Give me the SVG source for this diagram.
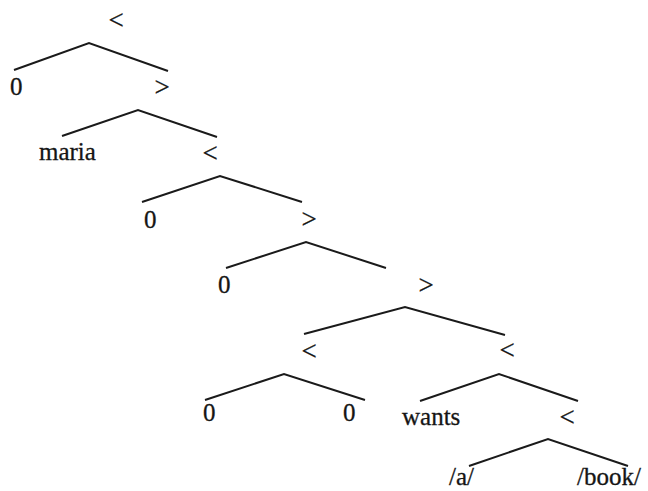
<svg xmlns="http://www.w3.org/2000/svg" width="648" height="491" viewBox="0 0 648 491">
<style>
text{font-family:"Liberation Serif","Times New Roman",serif;font-size:25px;fill:#151515;stroke:#151515;stroke-width:0.3}
.c{text-anchor:middle;font-size:27px}
.br{fill:none;stroke:#1a1a1a;stroke-width:2;stroke-linejoin:miter}
</style>
<rect width="648" height="491" fill="#fff"/>
<g id="connectors">
<polyline class="br" points="14,70 89,43 168,71"/>
<polyline class="br" points="62,136 138,110 217,137"/>
<polyline class="br" points="142,202 220,176 302,202"/>
<polyline class="br" points="226,268 306,242 386,268"/>
<polyline class="br" points="304,334 405,307 505,335"/>
<polyline class="br" points="205,400 284,374 365,400"/>
<polyline class="br" points="420,401 499,374 578,401"/>
<polyline class="br" points="469,466 548,439 628,466"/>
</g>
<g id="n1"><text class="c" x="116" y="29">&lt;</text></g>
<g id="n2"><text x="10" y="95">0</text></g>
<g id="n3"><text class="c" x="162" y="96">&gt;</text></g>
<g id="n4"><text x="39" y="160">maria</text></g>
<g id="n5"><text class="c" x="210" y="162">&lt;</text></g>
<g id="n6"><text x="144" y="228">0</text></g>
<g id="n7"><text class="c" x="309" y="228">&gt;</text></g>
<g id="n8"><text x="218" y="293">0</text></g>
<g id="n9"><text class="c" x="426" y="294">&gt;</text></g>
<g id="n10"><text class="c" x="309" y="360">&lt;</text></g>
<g id="n11"><text class="c" x="507" y="359">&lt;</text></g>
<g id="n12"><text x="203" y="421">0</text></g>
<g id="n13"><text x="343" y="421">0</text></g>
<g id="n14"><text x="402" y="425">wants</text></g>
<g id="n15"><text class="c" x="567" y="426">&lt;</text></g>
<g id="n16"><text x="449" y="485">/a/</text></g>
<g id="n17"><text x="577" y="485">/book/</text></g>
</svg>
